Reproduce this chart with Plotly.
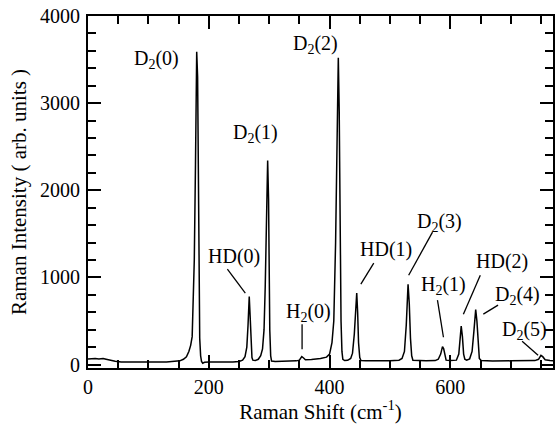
import plotly.graph_objects as go

# Raman spectrum
shift = [0, 5, 12, 18, 25, 30, 36, 45, 55, 70, 90, 110, 130, 145, 152, 158, 163, 167, 170, 172.5,
         174, 176, 178, 180, 181.5, 182.5, 183.5, 185, 186.5, 188, 190, 193, 200, 220, 240, 250,
         256, 260, 263, 265, 267, 268.5, 270, 271.5, 273, 277, 282, 286, 289, 291.5, 293.5, 295.5,
         297.5, 299, 300, 301, 302.5, 304, 310, 330, 345, 350, 354, 357, 360, 370, 385, 395, 400,
         404, 407, 410, 412.5, 414.5, 416, 417.5, 419, 420.5, 422, 425, 430, 435, 438, 441, 443,
         445, 446.5, 448, 450, 452, 460, 480, 500, 515, 520, 524, 527, 530, 532, 534, 536, 538,
         545, 560, 575, 580, 584, 587, 589, 591, 593, 600, 610, 614, 616, 618, 620, 622, 624, 627,
         632, 636, 639, 642, 644, 646, 648, 651, 670, 700, 720, 740, 746, 750, 753, 757, 765, 770]
intensity = [62, 66, 70, 64, 68, 60, 48, 38, 30, 28, 27, 28, 29, 32, 42, 60, 88, 150, 220, 320,
             600, 1200, 2300, 3590, 3300, 2000, 900, 300, 100, 35, 15, 25, 28, 27, 30, 35,
             50, 90, 200, 450, 780, 550, 200, 80, 50, 45, 60, 100, 180, 400, 900, 1700,
             2340, 1900, 1000, 400, 100, 40, 35, 38, 42, 50, 90, 75, 55, 58, 68, 85, 120,
             250, 500, 1400, 2800, 3520, 2900, 1400, 500, 150, 60, 45, 48, 70, 130, 350, 650,
             820, 600, 250, 80, 45, 42, 40, 42, 50, 70, 150, 450, 920, 700, 300, 100, 50,
             45, 42, 45, 60, 120, 205, 180, 90, 50, 45, 50, 120, 300, 440, 320, 120, 60, 50,
             65, 150, 380, 630, 500, 200, 70, 45, 40, 42, 40, 45, 60, 105, 90, 55, 45, 42]

x_ticks = [0, 200, 400, 600]
y_ticks = [0, 1000, 2000, 3000, 4000]

# peak labels
label_text = ["D<sub>2</sub>(0)", "D<sub>2</sub>(1)", "D<sub>2</sub>(2)", "HD(0)", "H<sub>2</sub>(0)",
              "HD(1)", "D<sub>2</sub>(3)", "H<sub>2</sub>(1)", "HD(2)", "D<sub>2</sub>(4)", "D<sub>2</sub>(5)"]
label_x = [113.8, 277.8, 375.9, 242.4, 365, 493, 582, 588, 685, 711.5, 723]
label_y = [3499, 2650, 3677, 1238, 600, 1318, 1630, 910, 1186, 795, 394]
# leader lines (x0, y0, x1, y1)
leaders = [(230.8, 1094, 260.5, 819), (354.5, 463, 354.5, 176), (473.2, 1163, 451.8, 922),
           (570.5, 1519, 531, 1025), (578.7, 738, 588.6, 313), (649.6, 1025, 621.6, 578),
           (679, 681, 654.6, 578), (718.9, 268, 745.3, 107)]

FONT = "Liberation Serif, Times New Roman, serif"
FS = 20

fig = go.Figure()
fig.add_trace(go.Scatter(x=shift, y=intensity, mode="lines",
                         line=dict(color="black", width=1.5), showlegend=False))

for t, x, y in zip(label_text, label_x, label_y):
    fig.add_annotation(x=x, y=y, text=t, showarrow=False, xanchor="center", yanchor="middle",
                       font=dict(family=FONT, size=FS, color="black"))
for x0, y0, x1, y1 in leaders:
    fig.add_shape(type="line", x0=x0, y0=y0, x1=x1, y1=y1, xref="x", yref="y",
                  line=dict(color="black", width=1.3))

axis_common = dict(showline=True, linecolor="black", linewidth=2, mirror="ticks",
                   ticks="inside", ticklen=13, tickwidth=1.5, tickcolor="black",
                   showgrid=False, zeroline=False,
                   tickfont=dict(family=FONT, size=FS, color="black"))

fig.update_xaxes(range=[0, 770], tickvals=x_ticks,
                 minor=dict(dtick=50, ticks="inside", ticklen=8, tickwidth=1.5, tickcolor="black", showgrid=False),
                 title=dict(text="Raman Shift (cm<sup>-1</sup>)", standoff=3,
                            font=dict(family=FONT, size=21, color="black")),
                 ticklabelstandoff=0,
                 **axis_common)
fig.update_yaxes(range=[-40, 4000], tickvals=y_ticks,
                 minor=dict(dtick=200, ticks="inside", ticklen=8, tickwidth=1.5, tickcolor="black", showgrid=False),
                 title=dict(text="Raman Intensity ( arb. units )", standoff=8,
                            font=dict(family=FONT, size=21, color="black")),
                 ticklabelstandoff=2,
                 **axis_common)

fig.update_layout(width=557, height=424, margin=dict(l=88, r=2, t=16, b=56),
                  plot_bgcolor="white", paper_bgcolor="white",
                  font=dict(family=FONT, size=FS, color="black"))

fig.write_html("out.html", config={"displayModeBar": False},
               post_script="document.body.style.margin='0';document.body.style.overflow='hidden';")
